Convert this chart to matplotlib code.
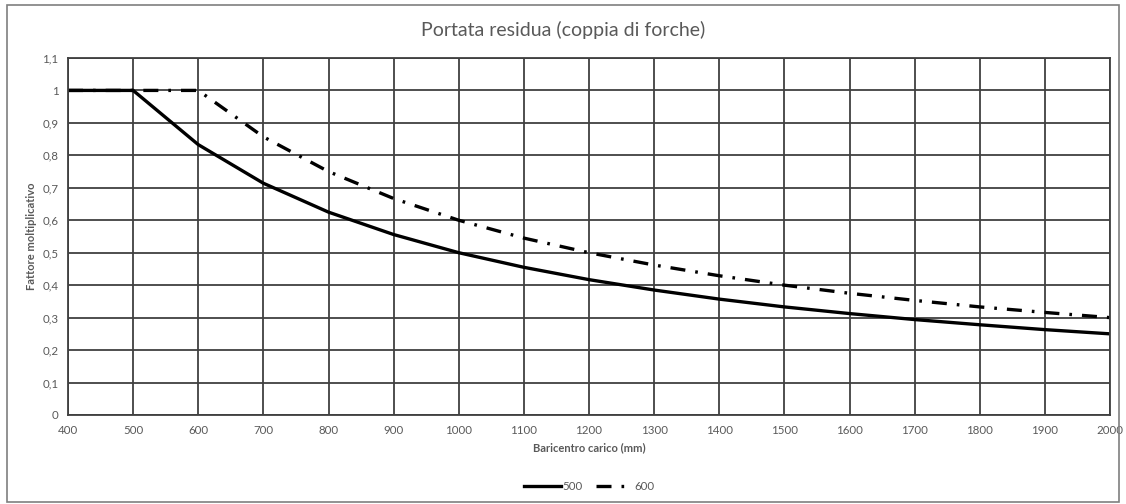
import matplotlib.pyplot as plt
from matplotlib.ticker import FuncFormatter, MultipleLocator

plt.rcParams['font.family'] = ['Lato', 'DejaVu Sans']

# dati
baricentro = [400, 500, 600, 700, 800, 900, 1000, 1100, 1200, 1300, 1400,
              1500, 1600, 1700, 1800, 1900, 2000]
fattore_500 = [1, 1, 0.833, 0.714, 0.625, 0.556, 0.5, 0.455, 0.417, 0.385,
               0.357, 0.333, 0.3125, 0.294, 0.278, 0.263, 0.25]
fattore_600 = [1, 1, 1, 0.857, 0.75, 0.667, 0.6, 0.545, 0.5, 0.462,
               0.429, 0.4, 0.375, 0.353, 0.333, 0.316, 0.3]
etichette = ['500', '600']

grid_col = '#404040'
text_col = '#595959'

fig = plt.figure(figsize=(11.26, 5.04), dpi=100)
fig.patches.append(plt.Rectangle((0.006, 0.004), 0.988, 0.986, transform=fig.transFigure,
                                 fill=False, edgecolor='#7f7f7f', linewidth=1.2))
ax = fig.add_axes([0.0604, 0.1766, 0.9254, 0.7084])

ax.plot(baricentro, fattore_500, color='black', linewidth=2.4, label=etichette[0])
ax.plot(baricentro, fattore_600, color='black', linewidth=2.4,
        linestyle=(0, (4.5, 3, 0.8, 3)), label=etichette[1])

ax.set_xlim(400, 2000)
ax.set_ylim(0, 1.1)
ax.xaxis.set_major_locator(MultipleLocator(100))
ax.yaxis.set_major_locator(MultipleLocator(0.1))
ax.yaxis.set_major_formatter(FuncFormatter(lambda v, p: ('%g' % round(v, 2)).replace('.', ',')))
ax.grid(True, color=grid_col, linewidth=1.3)
ax.set_axisbelow(True)
for s in ax.spines.values():
    s.set_color(grid_col)
    s.set_linewidth(1.3)
ax.tick_params(length=0, labelsize=8.3, colors=text_col, pad=7)

ax.set_xlabel('Baricentro carico (mm)', fontsize=8, fontweight='bold', color=text_col, labelpad=5)
ax.set_ylabel('Fattore moltiplicativo', fontsize=8, fontweight='bold', color=text_col, labelpad=4)
fig.text(0.5, 0.94, 'Portata residua (coppia di forche)', ha='center', va='center',
         fontsize=14, color=text_col)

ax.legend(loc='center', bbox_to_anchor=(0.5, -0.2), ncol=2, frameon=False,
          fontsize=8.3, labelcolor=text_col, handlelength=3.2, handletextpad=0.1,
          columnspacing=1.2)

fig.savefig('out.png', dpi=100)
